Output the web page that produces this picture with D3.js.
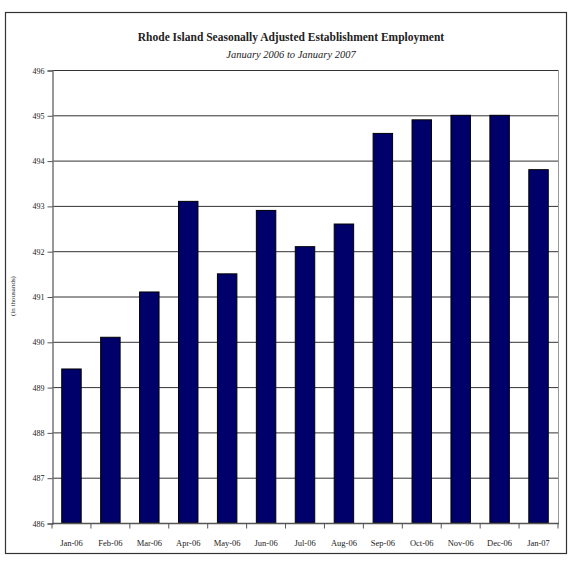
<!DOCTYPE html>
<html>
<head>
<meta charset="utf-8">
<script src="https://cdn.jsdelivr.net/npm/d3@7"></script>
<style>
  body { margin: 0; background: #fff; }
  text { font-family: "Liberation Serif", "DejaVu Serif", serif; fill: #222; }
</style>
</head>
<body>
<svg id="chart" width="572" height="563"></svg>
<script>
"use strict";

// data
const months = ["Jan-06", "Feb-06", "Mar-06", "Apr-06", "May-06", "Jun-06", "Jul-06",
    "Aug-06", "Sep-06", "Oct-06", "Nov-06", "Dec-06", "Jan-07"];
const employment = [489.4, 490.1, 491.1, 493.1, 491.5, 492.9, 492.1,
    492.6, 494.6, 494.9, 495.0, 495.0, 493.8];
const y_ticks = [486, 487, 488, 489, 490, 491, 492, 493, 494, 495, 496];

const svg = d3.select("#chart");
const plot = { left: 52, right: 558, top: 70, bottom: 523 };

// outer frame
svg.append("rect")
    .attr("x", 5.5).attr("y", 12.5)
    .attr("width", 561).attr("height", 541)
    .attr("fill", "none")
    .attr("stroke", "#333")
    .attr("stroke-width", 1.2);

svg.append("text")
    .attr("x", 291).attr("y", 41)
    .attr("text-anchor", "middle")
    .attr("font-size", 11.5)
    .attr("font-weight", "bold")
    .text("Rhode Island Seasonally Adjusted Establishment Employment");
svg.append("text")
    .attr("x", 291).attr("y", 58)
    .attr("text-anchor", "middle")
    .attr("font-size", 10.5)
    .attr("font-style", "italic")
    .text("January 2006 to January 2007");

const x = d3.scaleBand()
    .domain(months)
    .range([plot.left, plot.right])
    .paddingInner(0.5)
    .paddingOuter(0.25);
const y = d3.scaleLinear()
    .domain([486, 496])
    .range([plot.bottom, plot.top]);

// gridlines
svg.append("g")
    .selectAll("line")
    .data(y_ticks)
    .join("line")
    .attr("x1", plot.left).attr("x2", plot.right)
    .attr("y1", d => y(d) + 0.5).attr("y2", d => y(d) + 0.5)
    .attr("stroke", "#333")
    .attr("stroke-width", 1);

// right edge of plot area
svg.append("line")
    .attr("x1", plot.right + 0.5).attr("x2", plot.right + 0.5)
    .attr("y1", plot.top).attr("y2", plot.bottom)
    .attr("stroke", "#999");

// bars
svg.append("g")
    .selectAll("rect")
    .data(employment)
    .join("rect")
    .attr("x", (d, i) => x(months[i]))
    .attr("y", d => y(d))
    .attr("width", x.bandwidth())
    .attr("height", d => y(486) - y(d))
    .attr("fill", "#00006b")
    .attr("stroke", "#000")
    .attr("stroke-width", 1);

// y axis
const yAxis = svg.append("g")
    .attr("transform", `translate(${plot.left + 0.5},0.5)`)
    .call(d3.axisLeft(y).tickValues(y_ticks).tickSize(5).tickFormat(d3.format("d")));
yAxis.select(".domain").attr("stroke", "#777").attr("stroke-width", 1.5);
yAxis.selectAll(".tick line").attr("stroke", "#555");
yAxis.selectAll("text")
    .attr("font-size", 8)
    .attr("font-family", "Liberation Serif, serif")
    .attr("fill", "#333");

// x axis, ticks between categories
const xAxis = svg.append("g")
    .attr("transform", `translate(0,${plot.bottom + 0.5})`);
xAxis.append("line")
    .attr("x1", plot.left).attr("x2", plot.right + 1)
    .attr("stroke", "#555").attr("stroke-width", 1.5);
const step = x.step();
xAxis.selectAll(".sep")
    .data(d3.range(months.length + 1))
    .join("line")
    .attr("class", "sep")
    .attr("x1", i => plot.left + i * step)
    .attr("x2", i => plot.left + i * step)
    .attr("y1", 0).attr("y2", 5)
    .attr("stroke", "#555");
xAxis.selectAll("text")
    .data(months)
    .join("text")
    .attr("x", d => x(d) + x.bandwidth() / 2)
    .attr("y", 22)
    .attr("text-anchor", "middle")
    .attr("font-size", 8.5)
    .attr("fill", "#333")
    .text(d => d);

// y axis title
svg.append("text")
    .attr("transform", "translate(15,296) rotate(-90)")
    .attr("text-anchor", "middle")
    .attr("font-size", 7)
    .attr("fill", "#555")
    .text("(in thousands)");
</script>
</body>
</html>
